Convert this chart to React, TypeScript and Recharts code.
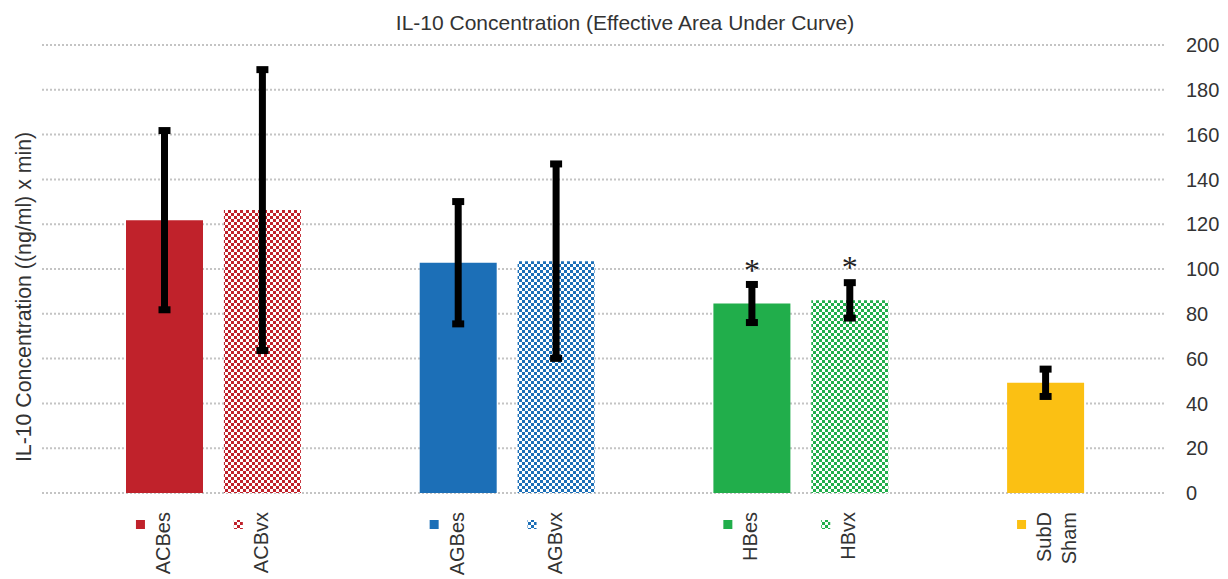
import React from 'react';
import { BarChart, Bar, XAxis, YAxis, CartesianGrid, ErrorBar, Cell, LabelList } from 'recharts';

const categories = ['ACBes', 'ACBvx', '', 'AGBes', 'AGBvx', '', 'HBes', 'HBvx', '', 'SubD Sham'];
const means = [121.8, 126.3, null, 102.8, 103.5, null, 84.6, 86, null, 49.2];
const errors = [40, 62.7, null, 27.3, 43.4, null, 8.5, 7.9, null, 6.1];
const hatched = [false, true, false, false, true, false, false, true, false, false];
const colors = ['#C0222B', '#C0222B', '', '#1C6FB7', '#1C6FB7', '', '#21AE4B', '#21AE4B', '', '#FBC013'];
const marks = ['', '', '', '', '', '', '*', '*', '', ''];
const yTicks = [0, 20, 40, 60, 80, 100, 120, 140, 160, 180, 200];

const patternIds: Record<string, string> = {
  '#C0222B': 'chk-red',
  '#1C6FB7': 'chk-blue',
  '#21AE4B': 'chk-green',
};

const data = categories.map((name, i) => ({
  name,
  value: means[i],
  err: errors[i],
  mark: marks[i],
}));

const fillFor = (i: number) =>
  hatched[i] ? `url(#${patternIds[colors[i]]})` : colors[i];

const FONT = '"Liberation Sans", Arial, sans-serif';
const TEXT = '#333333';

function XTick(props: any) {
  const { x, y, payload } = props;
  const name: string = payload.value;
  if (!name) return null;
  const i = payload.index;
  const lines = name.split(' ');
  return (
    <g>
      <rect x={x - 29} y={y + 27} width={9} height={9} fill={fillFor(i)} />
      {lines.map((ln, k) => (
        <text
          key={k}
          transform={`translate(${x + 5 + k * 25}, ${y + 19}) rotate(-90)`}
          textAnchor="end"
          fontSize={20}
          fontFamily={FONT}
          fill={TEXT}
        >
          {ln}
        </text>
      ))}
    </g>
  );
}

function Star(props: any) {
  const { x, y, width, value } = props;
  if (!value) return null;
  return (
    <text
      x={x + width / 2}
      y={y - 22}
      textAnchor="middle"
      fontSize={32}
      fontFamily='"Liberation Serif", serif'
      fill="#222"
    >
      {value}
    </text>
  );
}

export default function App() {
  return (
    <div style={{ position: 'absolute', left: 0, top: 0, width: 1228, height: 579, background: '#fff' }}>
      <svg width={0} height={0} style={{ position: 'absolute' }}>
        <defs>
          {Object.entries(patternIds).map(([c, id]) => (
            <pattern key={id} id={id} width={6} height={6} patternUnits="userSpaceOnUse">
              <rect x={0} y={0} width={6} height={6} fill="#fff" />
              <rect x={0} y={0} width={3} height={3} fill={c} />
              <rect x={3} y={3} width={3} height={3} fill={c} />
            </pattern>
          ))}
        </defs>
      </svg>
      <BarChart
        width={1228}
        height={579}
        data={data}
        margin={{ top: 45, right: 0, bottom: 0, left: 42 }}
      >
        <CartesianGrid
          vertical={false}
          stroke="#c4c4c4"
          strokeWidth={2}
          strokeDasharray="2 2"
        />
        <XAxis
          dataKey="name"
          interval={0}
          height={86}
          axisLine={false}
          tickLine={false}
          tickSize={0}
          tickMargin={0}
          padding={{ left: 74, right: 71 }}
          tick={<XTick />}
        />
        <YAxis
          orientation="right"
          width={62}
          domain={[0, 200]}
          ticks={yTicks}
          axisLine={false}
          tickLine={false}
          tickSize={6}
          tickMargin={14}
          tick={{ fontSize: 20, fontFamily: FONT, fill: TEXT }}
        />
        <Bar dataKey="value" barSize={77} isAnimationActive={false}>
          {data.map((_, i) => (
            <Cell key={i} fill={fillFor(i)} />
          ))}
          <ErrorBar dataKey="err" width={6} strokeWidth={7} stroke="#000" />
          <LabelList dataKey="mark" content={<Star />} />
        </Bar>
      </BarChart>
      <svg
        width={1228}
        height={579}
        style={{ position: 'absolute', left: 0, top: 0, pointerEvents: 'none' }}
      >
        <text x={625} y={30} textAnchor="middle" fontSize={21} fontFamily={FONT} fill={TEXT}>
          IL-10 Concentration (Effective Area Under Curve)
        </text>
        <text
          transform="translate(31, 297) rotate(-90)"
          textAnchor="middle"
          fontSize={21.3}
          fontFamily={FONT}
          fill={TEXT}
        >
          IL-10 Concentration ((ng/ml) x min)
        </text>
      </svg>
    </div>
  );
}
